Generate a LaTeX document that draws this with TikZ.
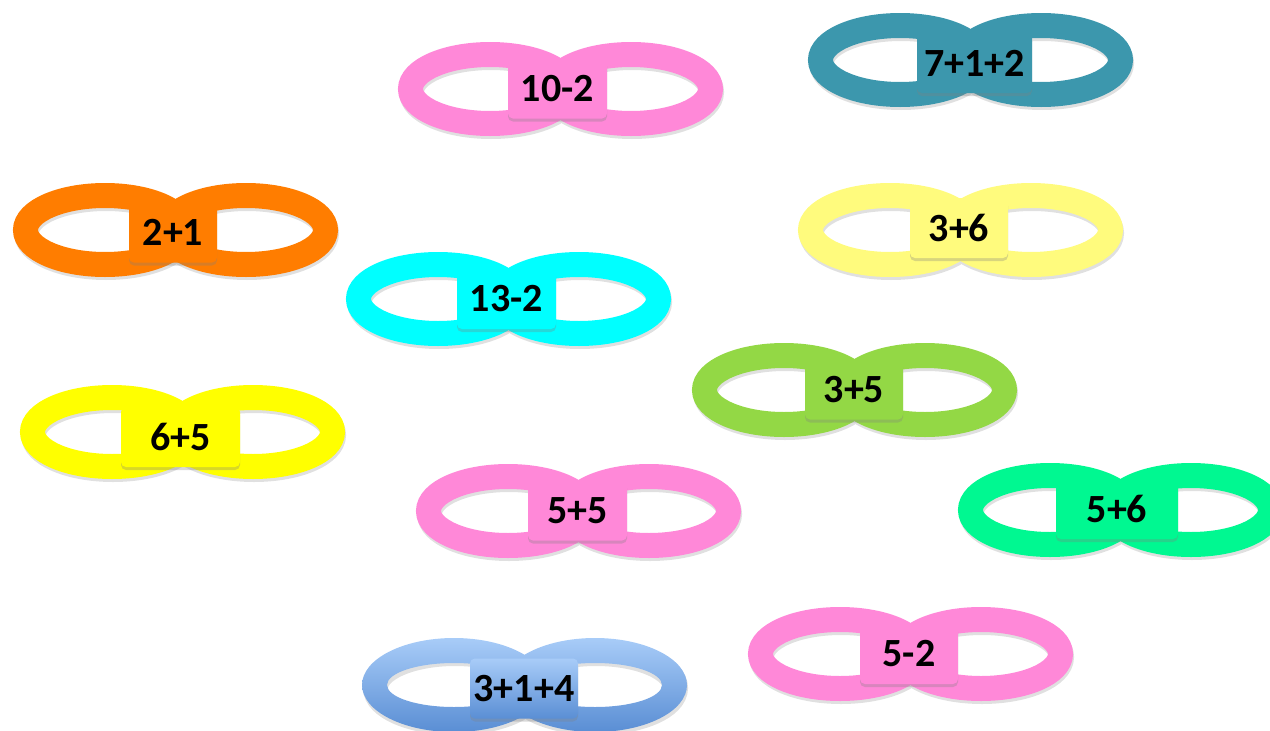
\documentclass[tikz,border=0pt]{standalone}
\usepackage{fontspec}
\setmainfont{Carlito}
\usetikzlibrary{shadows}
\definecolor{pinkring}{HTML}{FF88D8}
\definecolor{tealring}{HTML}{3C97AD}
\definecolor{orangering}{HTML}{FF7D00}
\definecolor{lemonring}{HTML}{FFFB7D}
\definecolor{cyanring}{HTML}{00FFFF}
\definecolor{limering}{HTML}{93D845}
\definecolor{yellowring}{HTML}{FFFF00}
\definecolor{mintring}{HTML}{00F891}
\definecolor{bluetop}{HTML}{A8CCF8}
\definecolor{bluebot}{HTML}{5A8ED4}
\tikzset{
  ring/.style={line width=25pt},
  ringshadow/.style={line width=25pt, draw=black, draw opacity=0.12},
  tag/.style={rounded corners=5pt, minimum height=60pt, inner sep=0pt,
    font=\fontsize{40}{44}\selectfont\bfseries,
    drop shadow={shadow xshift=0pt, shadow yshift=-3pt, opacity=0.3}},
}
\begin{document}
\begin{tikzpicture}[x=1pt, y=-1pt]
    \useasboundingbox (0,0) rectangle (1270,731);
    % plain coloured loops
    \foreach \n/\cx/\cy/\tx/\ty/\bw/\col/\lab in {
        a/560.5/89/557.5/88.5/99/pinkring/10-2,
        b/970.5/60/974.5/63/115/tealring/7+1+2,
        c/175.5/230/173/232.5/88/orangering/2+1,
        d/960.5/230/959/228/98/lemonring/3+6,
        e/508.5/299/506.5/299/99/cyanring/13-2,
        f/854.5/390/854/389.5/98/limering/3+5,
        g/182.5/432/180.5/437/119/yellowring/6+5,
        h/578.5/511/577.5/510.5/99/pinkring/5+5,
        i/1120.5/510/1117/509/122/mintring/5+6,
        j/910.5/654/909/654/98/pinkring/5-2} {
        \coordinate (l-\n) at (\cx-70.5,\cy);
        \coordinate (r-\n) at (\cx+70.5,\cy);
        \draw[ringshadow] ([shift={(1,3)}]l-\n) ellipse [x radius=79.5pt, y radius=34.5pt]
            ([shift={(1,3)}]r-\n) ellipse [x radius=79.5pt, y radius=34.5pt];
        \draw[ring, \col] (l-\n) ellipse [x radius=79.5pt, y radius=34.5pt];
        \draw[ring, \col] (r-\n) ellipse [x radius=79.5pt, y radius=34.5pt];
        \node[tag, fill=\col, minimum width=\bw pt] (tag-\n) at (\tx,\ty) {\lab};
    }
    % shaded blue loop
    \coordinate (l-k) at (454,685);
    \coordinate (r-k) at (595,685);
    \draw[ringshadow] ([shift={(1,3)}]l-k) ellipse [x radius=79.5pt, y radius=34.5pt]
        ([shift={(1,3)}]r-k) ellipse [x radius=79.5pt, y radius=34.5pt];
    \shade[top color=bluetop, bottom color=bluebot, even odd rule]
        (l-k) ellipse [x radius=92pt, y radius=47pt] (l-k) ellipse [x radius=67pt, y radius=22pt];
    \shade[top color=bluetop, bottom color=bluebot, even odd rule]
        (r-k) ellipse [x radius=92pt, y radius=47pt] (r-k) ellipse [x radius=67pt, y radius=22pt];
    \node[tag, top color=bluetop, bottom color=bluebot, minimum width=108pt] (tag-k) at (524,688.5) {3+1+4};
\end{tikzpicture}
\end{document}
